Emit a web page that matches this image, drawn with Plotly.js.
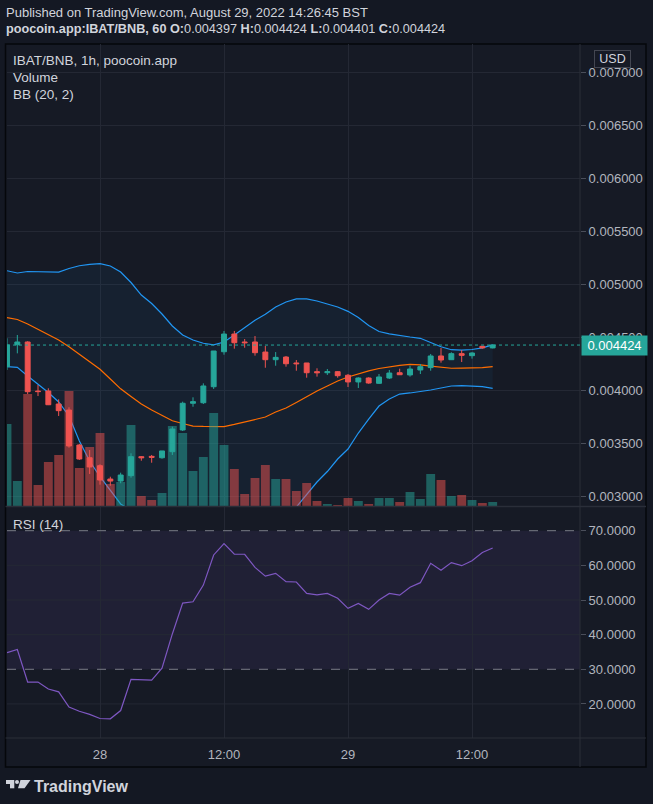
<!DOCTYPE html>
<html>
<head>
<meta charset="utf-8">
<script src="https://cdn.plot.ly/plotly-3.0.1.min.js"></script>
<style>
html,body{margin:0;padding:0;background:#141823;}
#chart{width:653px;height:804px;}
</style>
</head>
<body>
<div id="chart"></div>
<script>
// ---- data ----
const times = [
 "2022-08-27 15:00","2022-08-27 16:00","2022-08-27 17:00","2022-08-27 18:00","2022-08-27 19:00","2022-08-27 20:00","2022-08-27 21:00","2022-08-27 22:00","2022-08-27 23:00",
 "2022-08-28 00:00","2022-08-28 01:00","2022-08-28 02:00","2022-08-28 03:00","2022-08-28 04:00","2022-08-28 05:00","2022-08-28 06:00","2022-08-28 07:00","2022-08-28 08:00",
 "2022-08-28 09:00","2022-08-28 10:00","2022-08-28 11:00","2022-08-28 12:00","2022-08-28 13:00","2022-08-28 14:00","2022-08-28 15:00","2022-08-28 16:00","2022-08-28 17:00",
 "2022-08-28 18:00","2022-08-28 19:00","2022-08-28 20:00","2022-08-28 21:00","2022-08-28 22:00","2022-08-28 23:00",
 "2022-08-29 00:00","2022-08-29 01:00","2022-08-29 02:00","2022-08-29 03:00","2022-08-29 04:00","2022-08-29 05:00","2022-08-29 06:00","2022-08-29 07:00","2022-08-29 08:00",
 "2022-08-29 09:00","2022-08-29 10:00","2022-08-29 11:00","2022-08-29 12:00","2022-08-29 13:00","2022-08-29 14:00"
];
const openP = [0.004220,0.004427,0.004453,0.003990,0.003991,0.003868,0.003811,0.003481,0.003361,0.003286,0.003160,0.003141,0.003192,0.003371,0.003374,0.003361,
 0.003418,0.003623,0.003875,0.003880,0.004031,0.004361,0.004528,0.004453,0.004453,0.004358,0.004286,0.004311,0.004255,0.004255,0.004173,0.004163,
 0.004173,0.004139,0.004076,0.004113,0.004063,0.004113,0.004163,0.004142,0.004189,0.004211,0.004321,0.004286,0.004343,0.004324,0.004412,0.004397];
const highP = [0.004488,0.004519,0.004460,0.004047,0.004016,0.003912,0.003837,0.003491,0.003434,0.003299,0.003182,0.003220,0.003403,0.003377,0.003387,0.003425,
 0.003654,0.003890,0.003931,0.004063,0.004368,0.004557,0.004557,0.004481,0.004509,0.004415,0.004358,0.004321,0.004283,0.004255,0.004205,0.004198,
 0.004179,0.004151,0.004120,0.004120,0.004151,0.004189,0.004201,0.004229,0.004245,0.004340,0.004396,0.004356,0.004377,0.004356,0.004415,0.004430];
const lowP = [0.004189,0.004346,0.003962,0.003943,0.003858,0.003755,0.003456,0.003340,0.003208,0.003107,0.003097,0.003120,0.003173,0.003333,0.003314,0.003352,
 0.003387,0.003613,0.003842,0.003868,0.004010,0.004333,0.004390,0.004399,0.004324,0.004210,0.004229,0.004220,0.004182,0.004116,0.004126,0.004142,
 0.004116,0.004028,0.004019,0.004059,0.004057,0.004104,0.004144,0.004126,0.004151,0.004182,0.004258,0.004283,0.004264,0.004296,0.004390,0.004393];
const closeP = [0.004425,0.004453,0.003984,0.003985,0.003861,0.003805,0.003472,0.003349,0.003274,0.003151,0.003141,0.003198,0.003371,0.003361,0.003365,0.003425,
 0.003632,0.003875,0.003890,0.004038,0.004368,0.004528,0.004446,0.004446,0.004352,0.004286,0.004308,0.004248,0.004248,0.004163,0.004163,0.004173,
 0.004135,0.004076,0.004113,0.004066,0.004123,0.004160,0.004144,0.004198,0.004220,0.004321,0.004283,0.004343,0.004327,0.004349,0.004397,0.004424];
const volume = [82,25,112,21,44,51,115,38,59,73,22,24,81,10,6,13,80,73,35,49,93,61,37,12,28,41,27,27,15,23,5,2,1,8,5,2,8,8,4,14,7,32,26,10,11,6,3,4];
const bbUpper = [0.005125,0.005104,0.005118,0.005118,0.005113,0.005113,0.005146,0.005172,0.005186,0.005192,0.005170,0.005113,0.005014,0.004896,0.004816,0.004717,
 0.004604,0.004519,0.004472,0.004441,0.004425,0.004453,0.004519,0.004590,0.004658,0.004714,0.004783,0.004830,0.004859,0.004859,0.004840,0.004811,
 0.004783,0.004742,0.004684,0.004608,0.004552,0.004530,0.004512,0.004500,0.004488,0.004446,0.004408,0.004380,0.004377,0.004382,0.004398,0.004425];
const bbBasis = [0.004682,0.004665,0.004623,0.004575,0.004526,0.004472,0.004409,0.004335,0.004264,0.004195,0.004104,0.004011,0.003939,0.003868,0.003811,0.003759,
 0.003710,0.003684,0.003660,0.003656,0.003654,0.003654,0.003675,0.003698,0.003721,0.003745,0.003792,0.003830,0.003882,0.003939,0.003991,0.004038,
 0.004085,0.004123,0.004155,0.004181,0.004203,0.004219,0.004233,0.004241,0.004238,0.004226,0.004214,0.004205,0.004206,0.004208,0.004212,0.004220];
const bbLower = [0.004220,0.004214,0.004132,0.004057,0.003976,0.003887,0.003755,0.003519,0.003330,0.003182,0.003057,0.002925,0.002863,0.002840,0.002807,0.002802,
 0.002817,0.002849,0.002849,0.002871,0.002883,0.002855,0.002830,0.002807,0.002783,0.002776,0.002802,0.002830,0.002896,0.003019,0.003132,0.003231,
 0.003349,0.003443,0.003594,0.003726,0.003849,0.003915,0.003962,0.003972,0.003984,0.004000,0.004019,0.004038,0.004041,0.004038,0.004031,0.004016];
const rsi = [34.8,35.7,26.3,26.3,24.3,23.5,19.1,17.9,17.0,15.8,15.7,18.1,27.1,27.0,26.9,30.3,40.2,49.1,49.5,54.3,63.0,66.3,63.2,63.2,59.4,56.9,57.7,55.3,55.2,51.9,
 51.5,51.9,50.5,47.6,49.0,47.3,50.0,51.9,51.4,53.7,55.0,60.6,58.6,60.8,59.9,61.3,63.7,65.0];
const priceTicks = [0.003,0.0035,0.004,0.0045,0.005,0.0055,0.006,0.0065,0.007];
const rsiTicks = [20,30,40,50,60,70];
const timeTickVals = ["2022-08-28 00:00","2022-08-28 12:00","2022-08-29 00:00","2022-08-29 12:00"];
const timeTickText = ["28","12:00","29","12:00"];
const lastPrice = 0.004424;

// ---- styling helpers ----
const W = 653, H = 804, ML = 7, MR = 73, MT = 44, MB = 66;
const PW = W - ML - MR, PH = H - MT - MB;
const px = x => (x - ML) / PW;
const py = y => (H - MB - y) / PH;
const FONT = '"Liberation Sans", Arial, sans-serif';
const TXT = '#d1d4dc', AX = '#b2b5be', GRID = '#242834', SEP = '#2a2e39';
const UP = '#26a69a', DN = '#ef5350';

const volColors = closeP.map((c, i) => c >= openP[i] ? 'rgba(38,166,154,0.5)' : 'rgba(239,83,80,0.5)');

const traces = [
  {type:'scatter', mode:'lines', x:times, y:bbUpper, xaxis:'x', yaxis:'y',
   line:{color:'#2196f3', width:1.2}, hoverinfo:'skip', showlegend:false},
  {type:'scatter', mode:'lines', x:times, y:bbLower, xaxis:'x', yaxis:'y',
   line:{color:'#2196f3', width:1.2}, fill:'tonexty', fillcolor:'rgba(33,150,243,0.06)', hoverinfo:'skip', showlegend:false},
  {type:'scatter', mode:'lines', x:times, y:bbBasis, xaxis:'x', yaxis:'y',
   line:{color:'#ff6d00', width:1.2}, hoverinfo:'skip', showlegend:false},
  {type:'scatter', mode:'lines', x:times, y:rsi, xaxis:'x', yaxis:'y2',
   line:{color:'#7e57c2', width:1.2}, hoverinfo:'skip', showlegend:false},
  {type:'bar', x:times, y:volume, xaxis:'x', yaxis:'y3', marker:{color:volColors, line:{width:0}},
   hoverinfo:'skip', showlegend:false},
  {type:'candlestick', x:times, open:openP, high:highP, low:lowP, close:closeP, xaxis:'x', yaxis:'y4',
   increasing:{line:{color:UP, width:1}, fillcolor:UP},
   decreasing:{line:{color:DN, width:1}, fillcolor:DN},
   whiskerwidth:0, hoverinfo:'skip', showlegend:false}
];

const priceRange = [0.0029057, 0.0072642];
const shapes = [
  // frame
  {type:'rect', xref:'paper', yref:'paper', x0:px(5.5), x1:px(646), y0:py(44), y1:py(767),
   fillcolor:'#161a25', line:{color:'#05070b', width:1.5}, layer:'below'},
  // rsi band
  {type:'rect', xref:'paper', yref:'y2', x0:0, x1:1, y0:30, y1:70, fillcolor:'rgba(126,87,194,0.1)', line:{width:0}, layer:'below'},
  // rsi grid
  ...[20,40,50,60].map(v => ({type:'line', xref:'paper', yref:'y2', x0:0, x1:1, y0:v, y1:v, line:{color:GRID, width:1}, layer:'below'})),
  {type:'line', xref:'paper', yref:'y2', x0:0, x1:1, y0:70, y1:70, line:{color:'#787b86', width:1, dash:'dash'}},
  {type:'line', xref:'paper', yref:'y2', x0:0, x1:1, y0:30, y1:30, line:{color:'#787b86', width:1, dash:'dash'}},
  // separators
  {type:'line', xref:'paper', yref:'paper', x0:px(580), x1:px(580), y0:py(44), y1:py(767), line:{color:SEP, width:1}},
  {type:'line', xref:'paper', yref:'paper', x0:px(5.5), x1:px(646), y0:py(506.5), y1:py(506.5), line:{color:SEP, width:1.5}},
  {type:'line', xref:'paper', yref:'paper', x0:px(5.5), x1:px(646), y0:py(738), y1:py(738), line:{color:SEP, width:1}},
  // last price dotted line
  {type:'line', xref:'paper', yref:'y', x0:0, x1:1, y0:lastPrice, y1:lastPrice, line:{color:UP, width:1, dash:'dot'}},
  // TradingView logo
  {type:'rect', xref:'paper', yref:'paper', x0:px(6), x1:px(13), y0:py(780), y1:py(784), fillcolor:TXT, line:{width:0}},
  {type:'rect', xref:'paper', yref:'paper', x0:px(10), x1:px(14.3), y0:py(780), y1:py(788.3), fillcolor:TXT, line:{width:0}},
  {type:'circle', xref:'paper', yref:'paper', x0:px(15), x1:px(19), y0:py(780), y1:py(784), fillcolor:TXT, line:{width:0}},
  {type:'path', xref:'paper', yref:'paper',
   path:`M${px(20.5)},${py(780)} L${px(30.5)},${py(780)} L${px(24.5)},${py(788.3)} L${px(18)},${py(788.3)} Z`,
   fillcolor:TXT, line:{width:0}}
];

const ann = (text, x, y, size, opts={}) => Object.assign({
  text, xref:'paper', yref:'paper', x:px(x), y:py(y), xanchor:'left', yanchor:'middle',
  showarrow:false, font:{family:FONT, size, color:TXT}
}, opts);

const annotations = [
  ann('Published on TradingView.com, August 29, 2022 14:26:45 BST', 4, 13, 13),
  ann('<b>poocoin.app:IBAT/BNB, 60 O:</b>0.004397 <b>H:</b>0.004424 <b>L:</b>0.004401 <b>C:</b>0.004424', 4, 29, 12.7),
  ann('IBAT/BNB, 1h, poocoin.app', 11, 61, 13.5),
  ann('Volume', 11, 78, 13.5),
  ann('BB (20, 2)', 11, 94, 13.5),
  ann('RSI (14)', 11, 524, 13.5),
  ann('<b>TradingView</b>', 32, 786, 16),
  {text:'0.004424', xref:'paper', yref:'y', x:px(580.5), y:lastPrice, xanchor:'left', yanchor:'middle',
   showarrow:false, bgcolor:UP, width:61, height:15, borderpad:2, align:'center',
   font:{family:FONT, size:13, color:'#ffffff'}},
  {text:'USD', xref:'paper', yref:'paper', x:px(613), y:py(58.7), xanchor:'center', yanchor:'middle',
   showarrow:false, bgcolor:'#161a25', bordercolor:'#434651', borderwidth:1, borderpad:2, width:31, height:12,
   font:{family:FONT, size:12.5, color:TXT}}
];

const layout = {
  width:W, height:H, autosize:false,
  margin:{l:ML, r:MR, t:MT, b:MB, pad:0},
  paper_bgcolor:'#141823', plot_bgcolor:'#161a25',
  font:{family:FONT, size:13, color:AX},
  showlegend:false, hovermode:false,
  bargap:0.14, boxgap:0.32,
  xaxis:{type:'date', anchor:'y2', range:['2022-08-27 15:00','2022-08-29 22:27'],
    tickvals:timeTickVals, ticktext:timeTickText, showgrid:true, gridcolor:GRID, gridwidth:1,
    zeroline:false, showline:false, ticks:'outside', ticklen:4, tickcolor:'rgba(0,0,0,0)',
    tickfont:{family:FONT, size:13, color:AX}, rangeslider:{visible:false}, fixedrange:true},
  yaxis:{domain:[py(506), 1], side:'right', range:priceRange, tickvals:priceTicks, tickformat:'.6f',
    showgrid:true, gridcolor:GRID, zeroline:false, showline:false,
    ticks:'outside', ticklen:5, tickcolor:'#4a4e5a', tickfont:{family:FONT, size:13, color:AX}, fixedrange:true},
  yaxis2:{domain:[0, py(507)], side:'right', range:[10.17, 76.84], tickvals:rsiTicks, tickformat:'.4f',
    showgrid:false, zeroline:false, showline:false,
    ticks:'outside', ticklen:5, tickcolor:'#4a4e5a', tickfont:{family:FONT, size:13, color:AX}, fixedrange:true},
  yaxis3:{overlaying:'y', range:[0, 462], visible:false, fixedrange:true},
  yaxis4:{overlaying:'y', range:priceRange, visible:false, fixedrange:true},
  shapes, annotations
};

Plotly.newPlot('chart', traces, layout, {displayModeBar:false, staticPlot:true});
</script>
</body>
</html>
